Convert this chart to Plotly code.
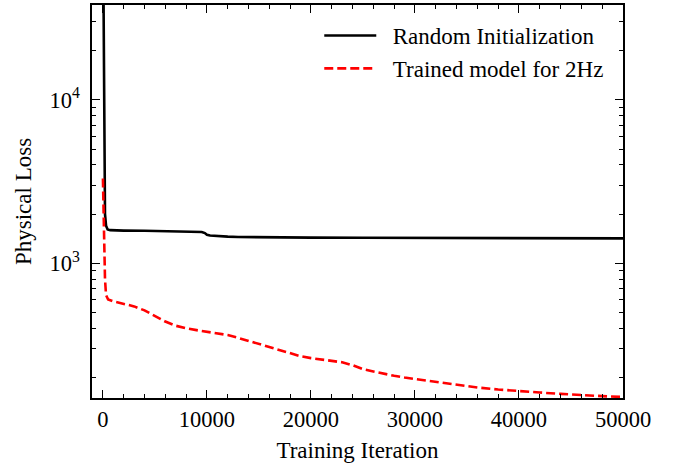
import plotly.graph_objects as go

# Training curves: physical loss vs. iteration
iters_random = [0, 50, 100, 150, 200, 300, 450, 700, 1000, 2000, 4000, 6000, 8000, 9000,
                9500, 9800, 10000, 10300, 11000, 12000, 13000, 15000, 20000, 25000,
                30000, 35000, 40000, 45000, 50000]
loss_random = [150000, 30000, 8000, 3000, 2000, 1700, 1610, 1595, 1590, 1585, 1580, 1575,
               1568, 1562, 1555, 1530, 1495, 1478, 1465, 1455, 1448, 1442, 1436, 1432,
               1428, 1425, 1423, 1421, 1420]

iters_trained = [0, 100, 200, 300, 500, 1000, 2000, 3000, 4000, 5000, 6000, 7000, 8000,
                 9000, 10000, 11000, 12000, 13000, 14000, 15000, 16000, 17000, 18000,
                 19000, 20000, 21000, 22000, 23000, 24000, 25000, 26000, 27000, 28000,
                 29000, 30000, 32000, 34000, 36000, 38000, 40000, 42000, 44000, 46000,
                 48000, 50000]
loss_trained = [3300, 1500, 800, 640, 600, 585, 565, 545, 515, 475, 440, 415, 400, 390,
                381, 373, 364, 350, 335, 322, 310, 295, 281, 270, 263, 257, 252, 248,
                238, 225, 218, 211, 205, 200, 196, 189, 181, 174, 169, 165, 162, 159,
                156, 154, 152]

x_ticks = [0, 10000, 20000, 30000, 40000, 50000]
x_ticktext = [str(v) for v in x_ticks]
y_ticks = [1000, 10000]
y_ticktext = ["10<sup>3</sup>", "10<sup>4</sup>"]
y_minor = [200, 300, 400, 500, 600, 700, 800, 900,
           2000, 3000, 4000, 5000, 6000, 7000, 8000, 9000, 20000, 30000]
x_minor = [v for v in range(0, 50001, 2000) if v % 10000 != 0]

FONT = "Liberation Serif, Times New Roman, serif"
GAP = "\u2002"  # spacing between legend sample and label

fig = go.Figure()
fig.add_trace(go.Scatter(
    x=iters_random, y=loss_random, mode="lines", name=GAP + "Random Initialization",
    line=dict(color="black", width=2.6), legendgroup="a"))
fig.add_trace(go.Scatter(
    x=iters_trained, y=loss_trained, mode="lines", name=GAP + "Trained model for 2Hz",
    line=dict(color="#ff0000", width=2.6, dash="9px,4px"), legendgroup="b"))

axis_common = dict(
    showline=True, linecolor="black", linewidth=1.5, mirror="allticks",
    ticks="inside", ticklen=8, tickwidth=1.3, tickcolor="black",
    showgrid=False, zeroline=False,
    tickfont=dict(family=FONT, size=22.5, color="black"),
)

fig.update_xaxes(
    range=[-1050, 50000], tickmode="array", tickvals=x_ticks, ticktext=x_ticktext,
    title=dict(text="Training Iteration", font=dict(family=FONT, size=23, color="black"),
               standoff=11),
    minor=dict(tickmode="array", tickvals=x_minor, ticks="inside", ticklen=4,
               tickwidth=1.2, tickcolor="black"),
    **axis_common)
fig.update_yaxes(
    type="log", range=[2.176, 4.58], tickmode="array", tickvals=y_ticks,
    ticktext=y_ticktext,
    title=dict(text="Physical Loss", font=dict(family=FONT, size=23, color="black"),
               standoff=11),
    minor=dict(tickmode="array", tickvals=y_minor, ticks="inside", ticklen=4,
               tickwidth=1.2, tickcolor="black"),
    ticklabelstandoff=6,
    **axis_common)

fig.update_layout(
    width=677, height=464,
    margin=dict(l=92, r=54, t=5, b=66, autoexpand=False),
    paper_bgcolor="white", plot_bgcolor="white",
    font=dict(family=FONT, size=23, color="black"),
    legend=dict(x=0.428, y=0.977, xanchor="left", yanchor="top",
                bgcolor="rgba(0,0,0,0)", borderwidth=0,
                traceorder="grouped", tracegroupgap=0, itemwidth=52,
                font=dict(family=FONT, size=23, color="black")),
)

fig.write_html("out.html")
